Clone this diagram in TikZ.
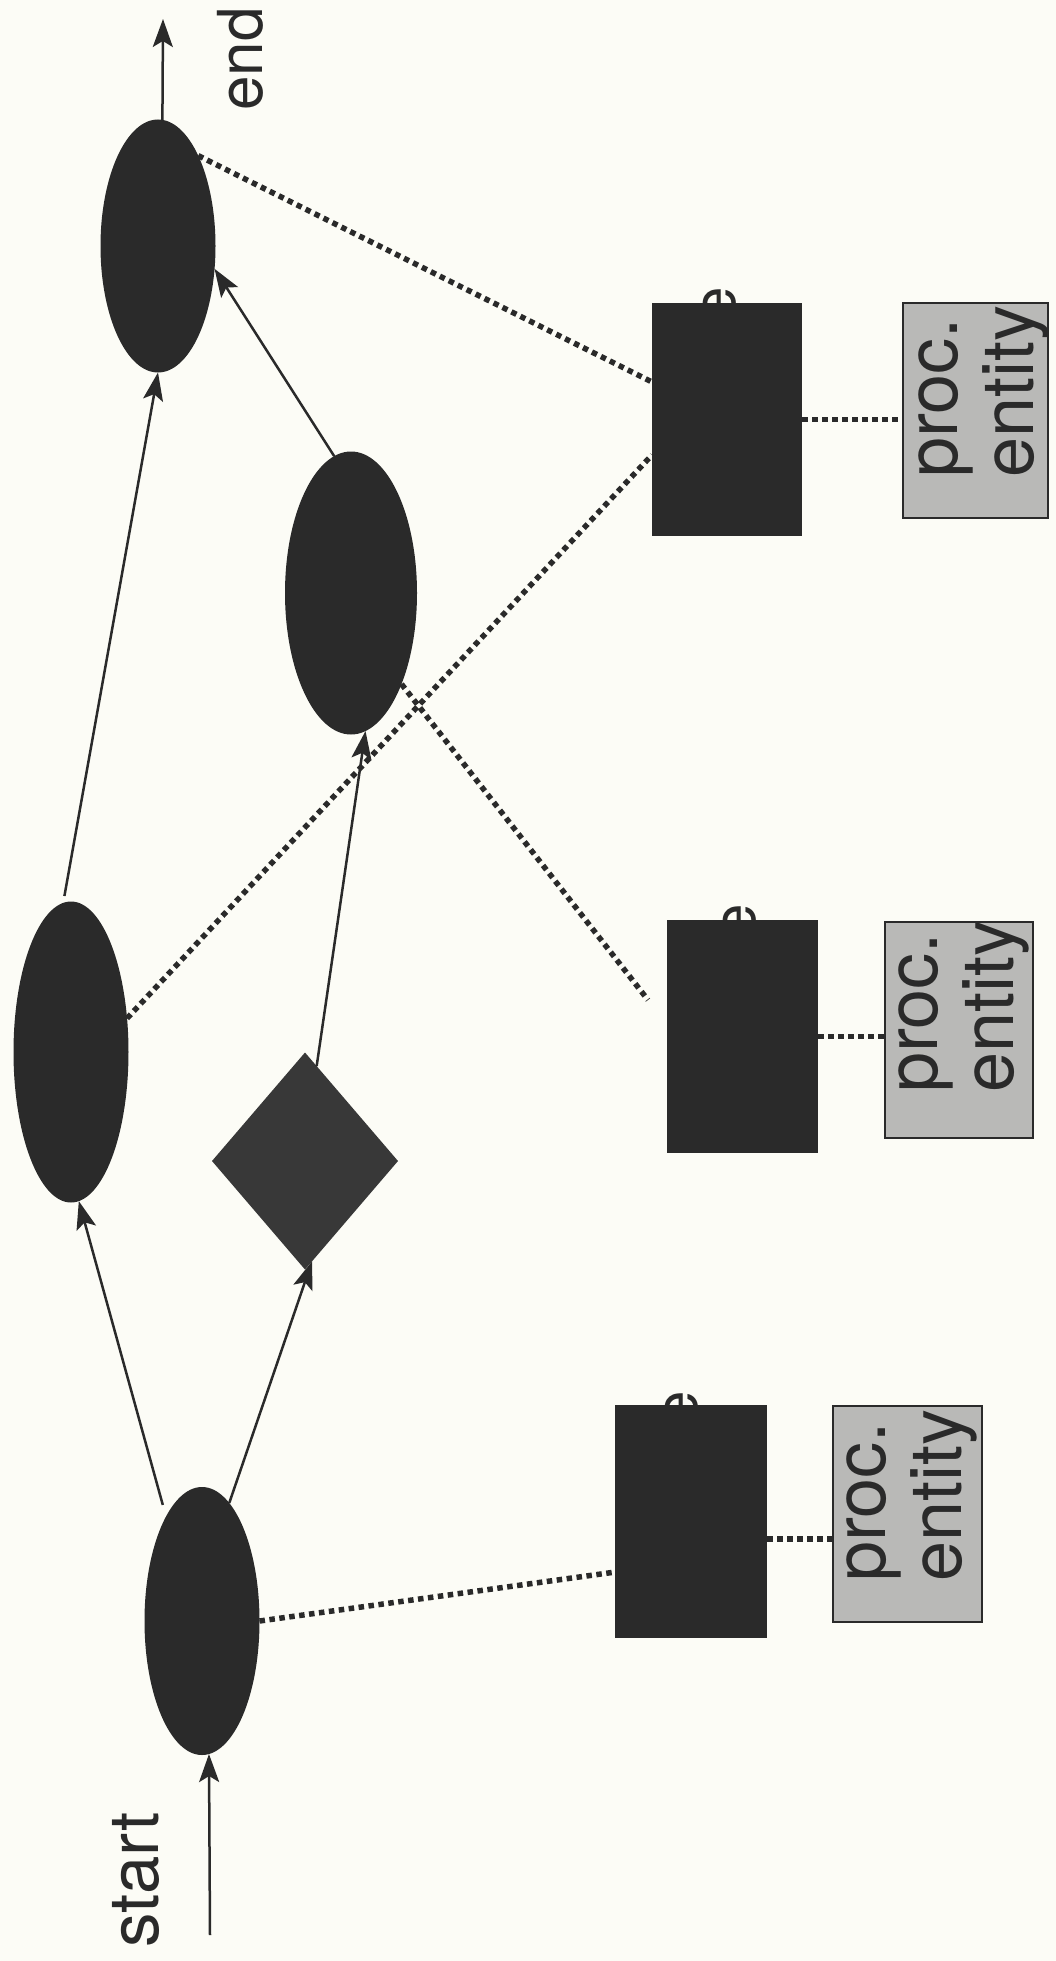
\documentclass[tikz,border=0pt]{standalone}
\usepackage{fontspec}
\setmainfont{TeX Gyre Heros}
\usetikzlibrary{shapes.geometric,arrows.meta,calc}
\definecolor{bg}{HTML}{FCFCF6}
\definecolor{ink}{HTML}{2A2A2A}
\definecolor{procfill}{HTML}{B9B9B7}
\definecolor{dmfill}{HTML}{383838}
\begin{document}
\begin{tikzpicture}[x=1pt,y=-1pt,
  blob/.style={ellipse, fill=ink, inner sep=0pt, outer sep=0pt},
  stepbox/.style={rectangle, fill=ink, inner sep=0pt, outer sep=0pt},
  procbox/.style={rectangle, fill=procfill, draw=ink, line width=2.5pt, inner sep=0pt, outer sep=0pt},
  flow/.style={draw=ink, line width=2.5pt, -{Stealth[length=28pt,width=20pt,inset=6pt]}},
  link/.style={draw=ink, line width=5.5pt, dash pattern=on 5.5pt off 4.5pt},
  rtext/.style={rotate=90, anchor=base west, inner sep=0pt, text=ink, font=\fontsize{72}{76}\selectfont},
  elabel/.style={rotate=90, anchor=base west, inner sep=0pt, text=ink, font=\fontsize{60}{60}\selectfont},
]
\fill[bg] (0,0) rectangle (1056,1961);
\useasboundingbox (0,0) rectangle (1056,1961);

% process nodes
\node[blob, minimum width=115pt, minimum height=268pt] (e1) at (202,1621) {};
\node[blob, minimum width=115pt, minimum height=301pt] (e2) at (71,1052) {};
\node[blob, minimum width=132pt, minimum height=283pt] (e3) at (351,593) {};
\node[blob, minimum width=115pt, minimum height=253pt] (e4) at (158,246) {};
\node[diamond, fill=dmfill, inner sep=0pt, outer sep=0pt, minimum width=186pt, minimum height=217pt] (dm) at (305,1161) {};

% dark rectangles
\node[stepbox, minimum width=150pt, minimum height=233pt] (rA) at (727,419.5) {};
\node[stepbox, minimum width=151pt, minimum height=233pt] (rB) at (742.5,1036.5) {};
\node[stepbox, minimum width=152pt, minimum height=233pt] (rC) at (691,1521.5) {};
\node[elabel] (eA) at ($(rA.north west)+(83,18)$) {e};
\node[elabel] (eB) at ($(rB.north west)+(88,18)$) {e};
\node[elabel] (eC) at ($(rC.north west)+(82,20)$) {e};

% proc. entity boxes
\node[procbox, minimum width=145pt, minimum height=215pt] (pA) at (975.5,410.5) {};
\node[procbox, minimum width=148pt, minimum height=216pt] (pB) at (959,1030) {};
\node[procbox, minimum width=149pt, minimum height=216pt] (pC) at (907.5,1514) {};
\node[rtext] (pA1) at ($(pA.south west)+(54,-40)$) {proc.};
\node[rtext] (pA2) at ($(pA.south west)+(130,-40)$) {entity};
\node[rtext] (pB1) at ($(pB.south west)+(52,-45)$) {proc.};
\node[rtext] (pB2) at ($(pB.south west)+(128,-45)$) {entity};
\node[rtext] (pC1) at ($(pC.south west)+(52,-40)$) {proc.};
\node[rtext] (pC2) at ($(pC.south west)+(128,-40)$) {entity};

% labels
\node[rotate=90, inner sep=0pt, text=ink, font=\fontsize{69}{69}\selectfont] (lstart) at (136,1880) {start};
\node[rotate=90, inner sep=0pt, text=ink, font=\fontsize{62}{62}\selectfont] (lend) at (240,59) {end};

% flow arrows
\coordinate (s0) at (210,1935);
\coordinate (t0) at (163,19);
\draw[flow] (s0) -- (e1.-87);
\draw[flow] (e4.88) -- (t0);
\draw[flow, shorten <=12pt] (e1.109) -- (e2.-87);
\draw[flow] (e1.77) -- (dm.-86);
\draw[flow] (dm.83) -- (e3.-84);
\draw[flow, shorten <=7pt] (e2.93) -- (e4.-90);
\draw[flow] (e3.97) -- (e4.-22);

% dotted links
\coordinate (d3end) at (648,1000);
\coordinate (cC) at ($(rC.south east)!0.425!(rC.north east)$);
\draw[link] (e1.east) -- ($(rC.south west)!0.283!(rC.north west)$);
\draw[link] (e2.31) -- ($(rA.south west)!0.348!(rA.north west)$);
\draw[link] (e3.-61.5) -- (d3end);
\draw[link] (e4.66) -- ($(rA.south west)!0.661!(rA.north west)$);
\draw[link] (rA.east) -- (rA.east -| pA.west);
\draw[link] (rB.east) -- (rB.east -| pB.west);
\draw[link] (cC) -- (cC -| pC.west);
\end{tikzpicture}
\end{document}
